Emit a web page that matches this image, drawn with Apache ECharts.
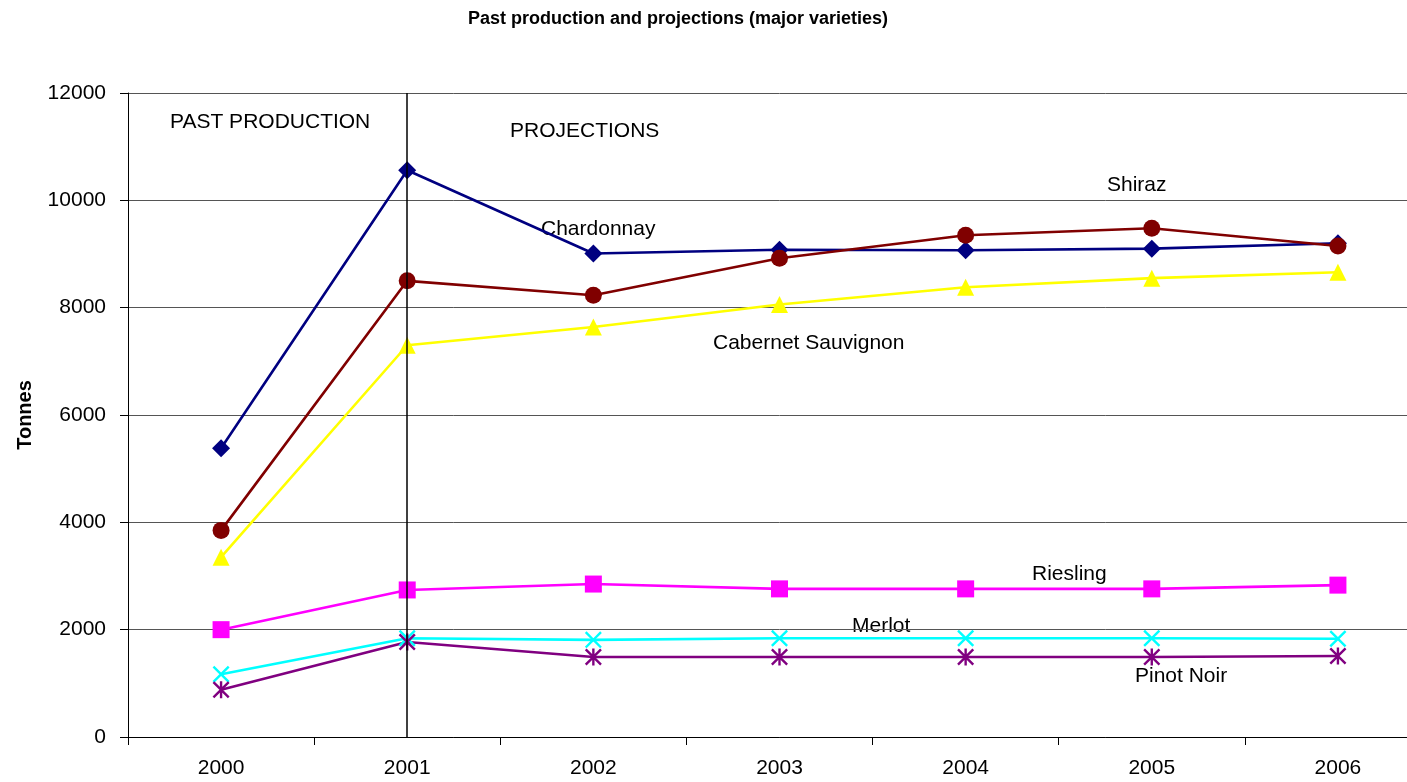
<!DOCTYPE html>
<html>
<head>
<meta charset="utf-8">
<script src="https://cdn.jsdelivr.net/npm/echarts@6/dist/echarts.min.js"></script>
<style>
  html, body { margin: 0; padding: 0; background: #fff; overflow: hidden; }
  /* plot area runs a little past the right edge, like the original */
  #chart { width: 1431px; height: 782px; }
</style>
</head>
<body>
<div id="chart"></div>
<script>
const years = ['2000', '2001', '2002', '2003', '2004', '2005', '2006']
const chardonnay = [5380, 10560, 9010, 9080, 9070, 9100, 9200]
const shiraz = [3850, 8500, 8230, 8920, 9350, 9480, 9150]
const cabernet = [3350, 7300, 7640, 8060, 8380, 8550, 8660]
const riesling = [2000, 2740, 2850, 2760, 2760, 2760, 2830]
const merlot = [1170, 1840, 1810, 1840, 1840, 1840, 1830]
const pinotNoir = [880, 1770, 1490, 1490, 1490, 1490, 1510]
const yTicks = [0, 2000, 4000, 6000, 8000, 10000, 12000]

const FONT = 'Liberation Sans, Arial, sans-serif'

// cross and asterisk markers (no built-in ones in echarts)
const crossPath = 'path://M0,1L1,0L5,4L9,0L10,1L6,5L10,9L9,10L5,6L1,10L0,9L4,5Z'
const starPath = 'path://M0,1L1,0L5,4L9,0L10,1L6,5L10,9L9,10L5,6L1,10L0,9L4,5Z M4.3,0L5.7,0L5.7,10L4.3,10Z'

const mkSeries = (name, data, color, symbol, size) => ({
  name,
  type: 'line',
  data,
  symbol,
  symbolSize: size,
  lineStyle: {color, width: 2.6},
  itemStyle: {color},
  emphasis: {disabled: true},
  animation: false
})

const chart = echarts.init(document.getElementById('chart'))

const series = [
  mkSeries('Chardonnay', chardonnay, '#000080', 'diamond', 18),
  mkSeries('Shiraz', shiraz, '#800000', 'circle', 17),
  mkSeries('Cabernet Sauvignon', cabernet, '#ffff00', 'triangle', 17),
  mkSeries('Riesling', riesling, '#ff00ff', 'rect', 17),
  mkSeries('Merlot', merlot, '#00ffff', crossPath, 17),
  mkSeries('Pinot Noir', pinotNoir, '#800080', starPath, 17)
]
// divider between past production and projections
series[0].markLine = {
  silent: true,
  symbol: 'none',
  label: {show: false},
  lineStyle: {color: '#000', width: 1.5, type: 'solid'},
  data: [{xAxis: '2001'}]
}

const txt = (text, left, top) => ({
  type: 'text',
  left, top,
  style: {text, font: '21px ' + FONT, fill: '#000'}
})

const option = {
  backgroundColor: '#fff',
  title: {
    text: 'Past production and projections (major varieties)',
    left: 463,
    top: 5,
    textStyle: {fontFamily: FONT, fontSize: 18, fontWeight: 'bold', color: '#000'}
  },
  grid: {left: 128, top: 93, right: 0, bottom: 45},
  xAxis: {
    type: 'category',
    data: years,
    boundaryGap: true,
    axisLine: {lineStyle: {color: '#000', width: 1}},
    axisTick: {show: true, length: 8, interval: 0, lineStyle: {color: '#000'}},
    axisLabel: {color: '#000', fontFamily: FONT, fontSize: 21, margin: 21}
  },
  yAxis: {
    type: 'value',
    name: 'Tonnes',
    nameLocation: 'middle',
    nameGap: 93,
    nameRotate: 90,
    nameTextStyle: {fontFamily: FONT, fontSize: 20, fontWeight: 'bold', color: '#000'},
    min: yTicks[0],
    max: yTicks[yTicks.length - 1],
    interval: 2000,
    axisLine: {show: true, lineStyle: {color: '#000', width: 1}},
    axisTick: {show: true, length: 8, lineStyle: {color: '#000'}},
    axisLabel: {color: '#000', fontFamily: FONT, fontSize: 21, margin: 22, formatter: v => String(v)},
    splitLine: {lineStyle: {color: '#555', width: 1}}
  },
  graphic: [
    txt('PAST PRODUCTION', 170, 112),
    txt('PROJECTIONS', 510, 121),
    txt('Chardonnay', 541, 219),
    txt('Shiraz', 1107, 175),
    txt('Cabernet Sauvignon', 713, 333),
    txt('Riesling', 1032, 564),
    txt('Merlot', 852, 616),
    txt('Pinot Noir', 1135, 666)
  ],
  series
}

chart.setOption(option)
</script>
</body>
</html>
